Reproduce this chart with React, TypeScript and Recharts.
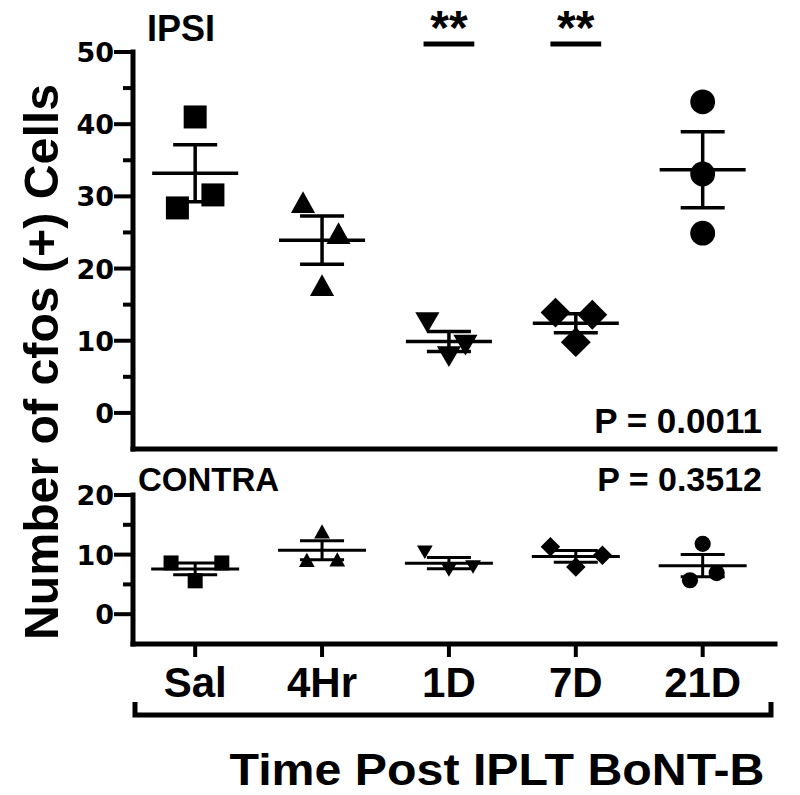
import React from 'react';
import { ScatterChart, Scatter, XAxis, YAxis, ErrorBar, ReferenceLine } from 'recharts';

// ---------- data ----------
const categories = ['Sal', '4Hr', '1D', '7D', '21D'];
const markerKinds = ['square', 'triangle', 'invtriangle', 'diamond', 'circle'];

const ipsiSal = [41.0, 28.4, 30.2];
const ipsi4Hr = [29.2, 24.9, 17.7];
const ipsi1D = [12.5, 7.8, 9.4];
const ipsi7D = [13.9, 13.6, 9.8];
const ipsi21D = [43.1, 33.1, 24.9];
const ipsiJitter = [
  [0, -0.14, 0.14],
  [-0.15, 0.13, 0],
  [-0.17, 0, 0.13],
  [-0.16, 0.13, 0],
  [0, 0, 0],
];

const contraSal = [8.6, 8.6, 5.6];
const contra4Hr = [13.9, 9.1, 9.2];
const contra1D = [10.4, 7.4, 7.9];
const contra7D = [11.3, 9.9, 7.9];
const contra21D = [11.8, 5.7, 6.9];
const contraJitter = [
  [-0.19, 0.21, 0],
  [0, -0.12, 0.12],
  [-0.19, 0, 0.19],
  [-0.2, 0.21, 0],
  [0, -0.1, 0.11],
];

const ipsiDomain: [number, number] = [-5, 50];
const contraDomain: [number, number] = [-5, 20];
const ipsiTicks = [0, 5, 10, 15, 20, 25, 30, 35, 40, 45, 50];
const contraTicks = [0, 5, 10, 15, 20];
const xTicks = [0, 1, 2, 3, 4];
const sigPairs = [2, 3]; // 1D and 7D marked ** in IPSI
const sigLevel = 51.1;
const pIpsi = 'P = 0.0011';
const pContra = 'P = 0.3512';

const ipsiGroups = [ipsiSal, ipsi4Hr, ipsi1D, ipsi7D, ipsi21D];
const contraGroups = [contraSal, contra4Hr, contra1D, contra7D, contra21D];

// ---------- layout ----------
const W = 800;
const H = 795;
const PLOT_LEFT = 133;
const PLOT_RIGHT = 775;
const TOP1 = 52;
const BOTTOM1 = 449;
const CHART1_H = 470;
const CHART2_TOP = 460;
const TOP2 = 495;
const BOTTOM2 = 644;
const CHART2_H = H - CHART2_TOP;
const X_AXIS2_H = 60;
const AXW = 5;

// ---------- helpers ----------
const FONT = "'Liberation Sans', Arial, Helvetica, sans-serif";
const TICKFONT = "'DejaVu Sans', 'Liberation Sans', sans-serif";
const X_DOMAIN: [number, number] = [-0.49, 4.57];

const mean = (a: number[]) => a.reduce((s, v) => s + v, 0) / a.length;
const sem = (a: number[]) => {
  const m = mean(a);
  const v = a.reduce((s, x) => s + (x - m) * (x - m), 0) / (a.length - 1);
  return Math.sqrt(v) / Math.sqrt(a.length);
};

const pointsFor = (groups: number[][], jit: number[][], g: number) =>
  groups[g].map((v, k) => ({ x: g + jit[g][k], y: v }));

const meansFor = (groups: number[][]) =>
  groups.map((a, i) => ({ x: i, y: mean(a), sem: sem(a) }));

const makeShape = (kind: string, s: number) => (props: any) => {
  const { cx, cy } = props;
  if (cx == null || cy == null) return <g />;
  const h = s / 2;
  switch (kind) {
    case 'square':
      return <rect x={cx - h} y={cy - h} width={s} height={s} fill="#000" />;
    case 'triangle':
      return (
        <polygon
          points={`${cx},${cy - h * 0.95} ${cx - h * 1.05},${cy + h * 0.95} ${cx + h * 1.05},${cy + h * 0.95}`}
          fill="#000"
        />
      );
    case 'invtriangle':
      return (
        <polygon
          points={`${cx},${cy + h * 0.9} ${cx - h * 1.05},${cy - h * 0.9} ${cx + h * 1.05},${cy - h * 0.9}`}
          fill="#000"
        />
      );
    case 'diamond': {
      const d = h * 1.3;
      return (
        <polygon points={`${cx},${cy - d} ${cx + d},${cy} ${cx},${cy + d} ${cx - d},${cy}`} fill="#000" />
      );
    }
    default:
      return <circle cx={cx} cy={cy} r={h * 1.08} fill="#000" />;
  }
};

const makeMeanShape = (half: number, sw: number) => (props: any) => {
  const { cx, cy } = props;
  if (cx == null || cy == null) return <g />;
  return <line x1={cx - half} x2={cx + half} y1={cy} y2={cy} stroke="#000" strokeWidth={sw} />;
};

const YTick = (props: any) => {
  const { x, y, payload } = props;
  const v = payload.value;
  const major = v % 10 === 0;
  return (
    <g>
      <line x1={x - (major ? 19 : 10)} x2={x} y1={y} y2={y} stroke="#000" strokeWidth={4} />
      {major && (
        <text x={x - 19} y={y} dy={10} textAnchor="end" fontFamily={TICKFONT} fontWeight="bold" fontSize={27} fill="#000">
          {v}
        </text>
      )}
    </g>
  );
};

const XTick = (props: any) => {
  const { x, y, payload } = props;
  return (
    <g>
      <line x1={x} x2={x} y1={y} y2={y + 13} stroke="#000" strokeWidth={4} />
      <text x={x} y={y + 53} textAnchor="middle" fontFamily={FONT} fontWeight="bold" fontSize={42} fill="#000">
        {categories[payload.value]}
      </text>
    </g>
  );
};

const Frame = ({ top, bottom }: { top: number; bottom: number }) => (
  <g>
    <rect x={PLOT_LEFT - AXW / 2} y={top - AXW / 2} width={AXW} height={bottom - top + AXW} fill="#000" />
    <rect x={PLOT_LEFT - AXW / 2} y={bottom - AXW / 2} width={PLOT_RIGHT - PLOT_LEFT + AXW} height={AXW} fill="#000" />
  </g>
);

export default function App() {
  const ipsiMeans = meansFor(ipsiGroups);
  const contraMeans = meansFor(contraGroups);

  return (
    <div style={{ position: 'absolute', left: 0, top: 0, width: W, height: H, background: '#fff' }}>
      {/* IPSI panel */}
      <div style={{ position: 'absolute', left: 0, top: 0, zIndex: 1 }}>
        <ScatterChart width={W} height={CHART1_H} margin={{ top: TOP1, right: W - PLOT_RIGHT, bottom: CHART1_H - BOTTOM1, left: 0 }}>
          <XAxis type="number" dataKey="x" domain={X_DOMAIN} ticks={[]} tick={false} tickLine={false} height={0} axisLine={false} allowDataOverflow />
          <YAxis type="number" dataKey="y" domain={ipsiDomain} ticks={ipsiTicks} interval={0} width={PLOT_LEFT} tickSize={0} tickMargin={0} tickLine={false} tick={<YTick />} axisLine={false} allowDataOverflow />
          {ipsiGroups.map((_, g) => (
            <Scatter key={'ip' + g} data={pointsFor(ipsiGroups, ipsiJitter, g)} shape={makeShape(markerKinds[g], 23)} isAnimationActive={false} />
          ))}
          <Scatter data={ipsiMeans} shape={makeMeanShape(43, 3.5)} isAnimationActive={false}>
            <ErrorBar dataKey="sem" direction="y" width={22} stroke="#000" strokeWidth={3.5} isAnimationActive={false} />
          </Scatter>
          {sigPairs.map((g) => (
            <ReferenceLine
              key={'sig' + g}
              segment={[{ x: g - 0.2, y: sigLevel }, { x: g + 0.2, y: sigLevel }]}
              ifOverflow="visible"
              stroke="#000"
              strokeWidth={5}
              label={{ value: '**', position: 'top', offset: 0, fontSize: 48, fontWeight: 'bold', fontFamily: FONT, fill: '#000' }}
            />
          ))}
        </ScatterChart>
      </div>

      {/* CONTRA panel */}
      <div style={{ position: 'absolute', left: 0, top: CHART2_TOP, zIndex: 1 }}>
        <ScatterChart
          width={W}
          height={CHART2_H}
          margin={{ top: TOP2 - CHART2_TOP, right: W - PLOT_RIGHT, bottom: CHART2_H - (BOTTOM2 - CHART2_TOP) - X_AXIS2_H, left: 0 }}
        >
          <XAxis type="number" dataKey="x" domain={X_DOMAIN} ticks={xTicks} interval={0} tickSize={0} tickMargin={0} tickLine={false} tick={<XTick />} height={X_AXIS2_H} axisLine={false} allowDataOverflow />
          <YAxis type="number" dataKey="y" domain={contraDomain} ticks={contraTicks} interval={0} width={PLOT_LEFT} tickSize={0} tickMargin={0} tickLine={false} tick={<YTick />} axisLine={false} allowDataOverflow />
          {contraGroups.map((_, g) => (
            <Scatter key={'co' + g} data={pointsFor(contraGroups, contraJitter, g)} shape={makeShape(markerKinds[g], 15)} isAnimationActive={false} />
          ))}
          <Scatter data={contraMeans} shape={makeMeanShape(44, 3)} isAnimationActive={false}>
            <ErrorBar dataKey="sem" direction="y" width={22} stroke="#000" strokeWidth={3} isAnimationActive={false} />
          </Scatter>
        </ScatterChart>
      </div>

      {/* axis frames and annotations */}
      <svg width={W} height={H} style={{ position: 'absolute', left: 0, top: 0, pointerEvents: 'none', zIndex: 5 }}>
        <Frame top={TOP1} bottom={BOTTOM1} />
        <Frame top={TOP2} bottom={BOTTOM2} />
        <text x={147} y={41} fontFamily={FONT} fontWeight="bold" fontSize={36} fill="#000">IPSI</text>
        <text x={762} y={433} textAnchor="end" fontFamily={FONT} fontWeight="bold" fontSize={35} fill="#000">{pIpsi}</text>
        <text x={138} y={491} fontFamily={FONT} fontWeight="bold" fontSize={33} fill="#000">CONTRA</text>
        <text x={762} y={491} textAnchor="end" fontFamily={FONT} fontWeight="bold" fontSize={34} fill="#000">{pContra}</text>
        <text x={58} y={362} transform="rotate(-90 58 362)" textAnchor="middle" fontFamily={FONT} fontWeight="bold" fontSize={48} textLength={556} lengthAdjust="spacingAndGlyphs" fill="#000">
          Number of cfos (+) Cells
        </text>
        <path d="M135,702 L135,715 L771,715 L771,702" fill="none" stroke="#000" strokeWidth={5} />
        <text x={497} y={785} textAnchor="middle" fontFamily={FONT} fontWeight="bold" fontSize={44} textLength={535} lengthAdjust="spacingAndGlyphs" fill="#000">
          Time Post IPLT BoNT-B
        </text>
      </svg>
    </div>
  );
}
